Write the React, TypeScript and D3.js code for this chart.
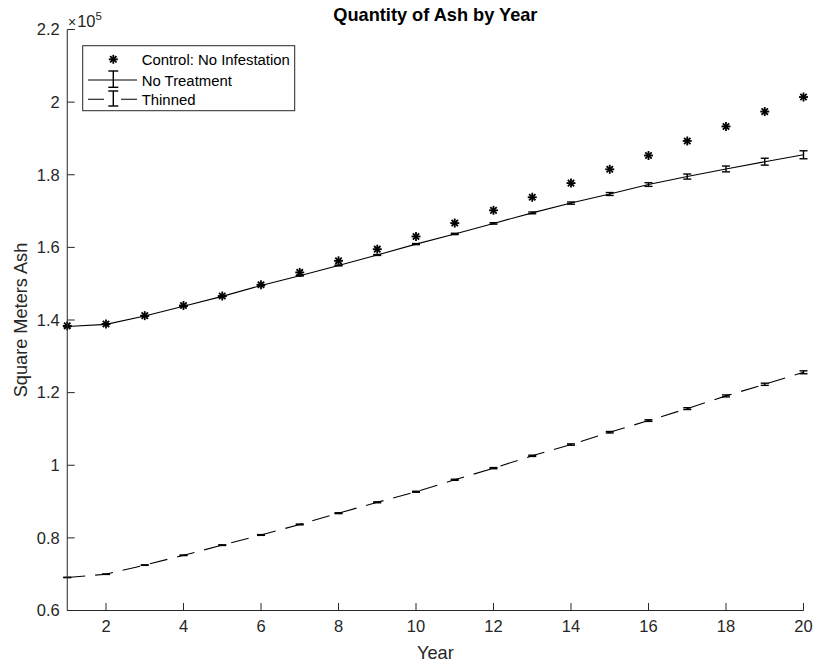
import React from "react";
import * as d3 from "d3";

const years = [1, 2, 3, 4, 5, 6, 7, 8, 9, 10, 11, 12, 13, 14, 15, 16, 17, 18, 19, 20];
const control = [138400, 138900, 141200, 144000, 146600, 149700, 153100, 156300, 159500, 163000, 166700, 170200, 173800, 177700, 181500, 185300, 189300, 193300, 197400, 201400];
const noTreatment = [138200, 138800, 141100, 143800, 146500, 149500, 152200, 155000, 157900, 160900, 163700, 166600, 169500, 172200, 174700, 177300, 179500, 181600, 183600, 185500];
const noTreatmentErr = [0, 20, 30, 40, 50, 60, 80, 100, 120, 150, 180, 200, 250, 300, 400, 500, 700, 800, 950, 1100];
const thinned = [69100, 70000, 72500, 75200, 78000, 80800, 83700, 86800, 89800, 92700, 96000, 99200, 102600, 105700, 109100, 112300, 115600, 119100, 122300, 125600];
const thinnedErr = [50, 60, 70, 80, 90, 100, 110, 120, 130, 140, 150, 160, 170, 180, 200, 220, 250, 270, 300, 400];
const xTicks = [2, 4, 6, 8, 10, 12, 14, 16, 18, 20];
const yTicks = [60000, 80000, 100000, 120000, 140000, 160000, 180000, 200000, 220000];
const yTickLabels = ["0.6", "0.8", "1", "1.2", "1.4", "1.6", "1.8", "2", "2.2"];
const legendLabels = ["Control: No Infestation", "No Treatment", "Thinned"];
const title = "Quantity of Ash by Year";
const xLabel = "Year";
const yLabel = "Square Meters Ash";

const W = 813, H = 666;
const L = 67.25, R = 803.5, T = 29.5, B = 610.5;
const AX = "#262626";
const FONT = "'Liberation Sans', Arial, Helvetica, sans-serif";

function Asterisk({ cx, cy, r = 4.5 }: { cx: number; cy: number; r?: number }) {
  const d = r * Math.SQRT1_2;
  return (
    <g stroke="#000" strokeWidth={1.8}>
      <line x1={cx - r} y1={cy} x2={cx + r} y2={cy} />
      <line x1={cx} y1={cy - r} x2={cx} y2={cy + r} />
      <line x1={cx - d} y1={cy - d} x2={cx + d} y2={cy + d} />
      <line x1={cx - d} y1={cy + d} x2={cx + d} y2={cy - d} />
    </g>
  );
}

function ErrBar({ x, y1, y2, cap = 4 }: { x: number; y1: number; y2: number; cap?: number }) {
  return (
    <g stroke="#000" strokeWidth={1.4} fill="none">
      <line x1={x} y1={y1} x2={x} y2={y2} />
      <line x1={x - cap} y1={y1} x2={x + cap} y2={y1} />
      <line x1={x - cap} y1={y2} x2={x + cap} y2={y2} />
    </g>
  );
}

export default function App() {
  const x = d3.scaleLinear().domain([1, 20]).range([L, R]);
  const y = d3.scaleLinear().domain([60000, 220000]).range([B, T]);
  const line = d3.line<number>().x((_, i) => x(years[i])).y((d) => y(d));
  const tick = 7.5;

  return (
    <svg width={W} height={H} style={{ position: "absolute", left: 0, top: 0, background: "#fff" }} fontFamily={FONT}>
      <rect x={0} y={0} width={W} height={H} fill="#fff" />
      {/* no treatment */}
      <path d={line(noTreatment) || ""} fill="none" stroke="#000" strokeWidth={1.1} />
      {noTreatment.map((v, i) => (
        <ErrBar key={"n" + i} x={x(years[i])} y1={y(v - noTreatmentErr[i])} y2={y(v + noTreatmentErr[i])} />
      ))}
      {/* thinned */}
      <path d={line(thinned) || ""} fill="none" stroke="#000" strokeWidth={1.1} strokeDasharray="18,10" />
      {thinned.map((v, i) => (
        <ErrBar key={"t" + i} x={x(years[i])} y1={y(v - thinnedErr[i])} y2={y(v + thinnedErr[i])} />
      ))}
      {/* control */}
      {control.map((v, i) => (
        <Asterisk key={"c" + i} cx={x(years[i])} cy={y(v)} />
      ))}
      {/* axes */}
      <g stroke={AX} strokeWidth={1} fill="none">
        <line x1={L} y1={T} x2={L} y2={B} />
        <line x1={L} y1={B} x2={R} y2={B} />
        {xTicks.map((t) => (
          <line key={"xt" + t} x1={x(t)} y1={B} x2={x(t)} y2={B - tick} />
        ))}
        {yTicks.map((t) => (
          <line key={"yt" + t} x1={L} y1={y(t)} x2={L + tick} y2={y(t)} />
        ))}
      </g>
      <g fill={AX} fontSize={16.5}>
        {xTicks.map((t) => (
          <text key={"xl" + t} x={x(t)} y={632} textAnchor="middle">{t}</text>
        ))}
        {yTicks.map((t, i) => (
          <text key={"yl" + t} x={L - 7.5} y={y(t) + 5.8} textAnchor="end">{yTickLabels[i]}</text>
        ))}
        <text x={68} y={26.7}>
          <tspan fontSize={14}>×</tspan>
          <tspan dx={1} fontSize={16.5}>10</tspan>
          <tspan dy={-7} fontSize={11.5}>5</tspan>
        </text>
      </g>
      <text x={(L + R) / 2} y={658.5} textAnchor="middle" fontSize={18.2} fill={AX}>{xLabel}</text>
      <text transform={`translate(${26.5},${(T + B) / 2}) rotate(-90)`} textAnchor="middle" fontSize={18.2} fill={AX}>{yLabel}</text>
      <text x={(L + R) / 2} y={20.5} textAnchor="middle" fontSize={18.2} fontWeight="bold" fill="#000">{title}</text>
      {/* legend */}
      <rect x={82.7} y={45.7} width={212} height={65} fill="#fff" stroke={AX} strokeWidth={1} />
      <Asterisk cx={113.3} cy={59.3} />
      <line x1={88} y1={80} x2={137} y2={80} stroke="#000" strokeWidth={1.1} />
      <ErrBar x={113.3} y1={71} y2={87.3} cap={5} />
      <line x1={88} y1={99.3} x2={137} y2={99.3} stroke="#000" strokeWidth={1.1} strokeDasharray="16,17" />
      <ErrBar x={113.3} y1={91} y2={106} cap={5} />
      <g fontSize={14.9} fill="#000">
        <text x={141.7} y={65}>{legendLabels[0]}</text>
        <text x={141.7} y={85.5}>{legendLabels[1]}</text>
        <text x={141.7} y={105}>{legendLabels[2]}</text>
      </g>
    </svg>
  );
}
